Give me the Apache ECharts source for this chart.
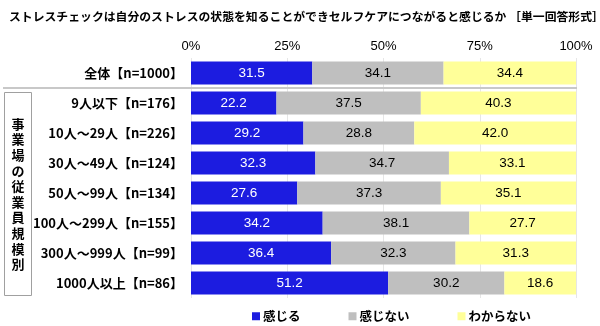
<!DOCTYPE html>
<html><head><meta charset="utf-8">
<script src="https://cdn.jsdelivr.net/npm/echarts@6/dist/echarts.min.js"></script>
<style>html,body{margin:0;padding:0;background:#fff}#c{width:600px;height:326px}</style>
</head><body><div id="c"></div>
<script>
const titleText = 'ストレスチェックは自分のストレスの状態を知ることができセルフケアにつながると感じるか ［単一回答形式］';
const categories = ['全体【n=1000】','9人以下【n=176】','10人～29人【n=226】','30人～49人【n=124】','50人～99人【n=134】','100人～299人【n=155】','300人～999人【n=99】','1000人以上【n=86】'];
const seriesNames = ['感じる','感じない','わからない'];
const feel = [31.5,22.2,29.2,32.3,27.6,34.2,36.4,51.2];
const notFeel = [34.1,37.5,28.8,34.7,37.3,38.1,32.3,30.2];
const unknown = [34.4,40.3,42.0,33.1,35.1,27.7,31.3,18.6];
const tickValues = [0,25,50,75,100];
const groupLabel = '事業場の従業員規模別';

const JP = '"Noto Sans CJK JP", sans-serif';
const NUM = '"Liberation Sans", Arial, sans-serif';
const colors = ['#1c1ce0','#bfbfbf','#ffff99'];
const labelColors = ['#ffffff','#000000','#000000'];
const chart = echarts.init(document.getElementById('c'));
const datasets = [feel, notFeel, unknown];
chart.setOption({
  animation:false,
  title:{text:titleText,left:4,top:6,textStyle:{fontFamily:JP,fontSize:11.85,fontWeight:'bold',color:'#000'}},
  grid:{left:191,right:24,top:58,height:240},
  xAxis:{type:'value',position:'top',min:tickValues[0],max:tickValues[tickValues.length-1],interval:25,
    axisLabel:{formatter:'{value}%',fontFamily:NUM,fontSize:13,color:'#000',margin:5},
    axisLine:{show:false},axisTick:{show:false},
    splitLine:{lineStyle:{color:'#e6e6e6'}}},
  yAxis:{type:'category',data:categories,inverse:true,
    axisLine:{show:false},axisTick:{show:false},
    axisLabel:{fontFamily:JP,fontSize:13,fontWeight:'bold',color:'#000',margin:8}},
  legend:{left:247,top:305,itemWidth:8,itemHeight:8,icon:'rect',itemGap:48,
    textStyle:{fontFamily:JP,fontSize:12.5,fontWeight:'bold',color:'#000',padding:[0,0,0,-2]}},
  series: seriesNames.map((n,i)=>({
    name:n,type:'bar',stack:'t',data:datasets[i],barWidth:23,
    itemStyle:{color:colors[i]},
    label:{show:true,position:'inside',formatter:p=>p.value.toFixed(1),fontFamily:NUM,fontSize:13.5,color:labelColors[i]}
  })),
  graphic:[
    {type:'line',shape:{x1:3,y1:88,x2:577,y2:88},style:{stroke:'#c8c8c8',lineWidth:2},z:10},
    {type:'rect',shape:{x:4.5,y:92.5,width:27,height:203},style:{fill:'none',stroke:'#a0a0a0',lineWidth:1}},
    {type:'text',x:18,y:194,style:{text:groupLabel.split('').join('\n'),fontFamily:JP,fontSize:13,fontWeight:'bold',fill:'#000',align:'center',verticalAlign:'middle',lineHeight:15.6}}
  ]
});
</script></body></html>
